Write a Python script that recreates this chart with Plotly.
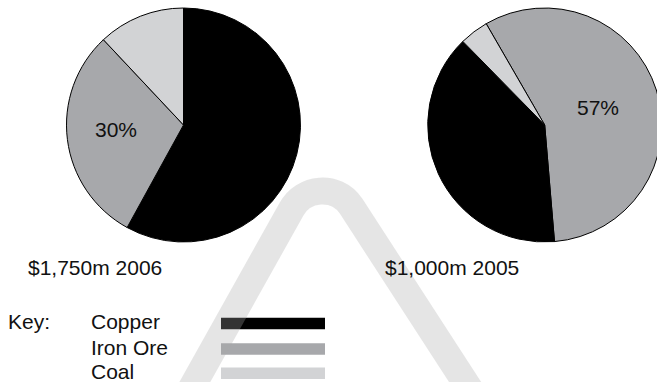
import plotly.graph_objects as go

# Export revenue mix by commodity
materials = ["Copper", "Iron Ore", "Coal"]
colors = ["#000000", "#a7a8ab", "#d2d3d5"]
share_2006 = [58, 30, 12]
share_2005 = [39, 57, 4]
totals = ["$1,750m 2006", "$1,000m 2005"]

W, H = 662, 382  # canvas is a few px wider than the window so the right pie runs off the edge


def px(x):
    return x / W


def py(y):
    return 1 - y / H


def pie_domain(cx, cy, r):
    return dict(x=[px(cx - r), px(cx + r)], y=[py(cy + r), py(cy - r)])


fig = go.Figure()

# 2006: copper from 12 o'clock clockwise
fig.add_trace(go.Pie(
    labels=materials, values=share_2006, sort=False, direction="clockwise",
    rotation=0, marker=dict(colors=colors, line=dict(color="#000000", width=1)),
    textinfo="none", hoverinfo="skip", showlegend=False,
    domain=pie_domain(183.5, 125, 117),
))

# 2005: iron ore first, starting at 11 o'clock
order_2005 = [1, 0, 2]
fig.add_trace(go.Pie(
    labels=[materials[i] for i in order_2005],
    values=[share_2005[i] for i in order_2005],
    sort=False, direction="clockwise", rotation=-30,
    marker=dict(colors=[colors[i] for i in order_2005], line=dict(color="#000000", width=1)),
    textinfo="none", hoverinfo="skip", showlegend=False,
    domain=pie_domain(544.7, 125, 117),
))

FONT = dict(family="Liberation Sans, Arial, Helvetica, sans-serif", size=21, color="#111111")

annotations = [
    dict(x=px(115.8), y=py(129), text=f"{share_2006[1]}%", xanchor="center", yanchor="middle"),
    dict(x=px(598.3), y=py(107), text=f"{share_2005[1]}%", xanchor="center", yanchor="middle"),
    dict(x=px(26), y=py(267), text=totals[0], xanchor="left", yanchor="middle"),
    dict(x=px(383), y=py(267), text=totals[1], xanchor="left", yanchor="middle"),
    dict(x=px(6), y=py(321), text="Key:", xanchor="left", yanchor="middle"),
]

shapes = []
key_rows = [323.5, 349, 373.3]
for name, color, yc in zip(materials, colors, key_rows):
    annotations.append(dict(x=px(89), y=py(yc - 2), text=name, xanchor="left", yanchor="middle"))
    shapes.append(dict(type="rect", xref="paper", yref="paper",
                       x0=px(221), x1=px(325), y0=py(yc - 5.8), y1=py(yc + 5.8),
                       fillcolor=color, line=dict(width=0), layer="above"))

for a in annotations:
    a.update(xref="paper", yref="paper", showarrow=False, font=FONT)


# Faint arch watermark laid over the whole page: two straight legs joined by a round top
def pt(x, y):
    return f"{px(x):.5f},{py(y):.5f}"


path = (
    f"M {pt(182, 405)} L {pt(291, 210)} "
    f"C {pt(303, 187)} {pt(336, 184)} {pt(351, 206)} "
    f"L {pt(480, 405)}"
)
shapes.append(dict(type="path", xref="paper", yref="paper", path=path,
                   line=dict(color="rgba(170,170,170,0.3)", width=27), layer="above"))

fig.update_layout(
    width=W, height=H,
    margin=dict(l=0, r=0, t=0, b=0),
    paper_bgcolor="white", plot_bgcolor="white",
    annotations=annotations, shapes=shapes,
)

fig.write_html(
    "out.html",
    config={"displayModeBar": False},
    post_script="document.documentElement.style.overflow='hidden';document.body.style.overflow='hidden';",
)
